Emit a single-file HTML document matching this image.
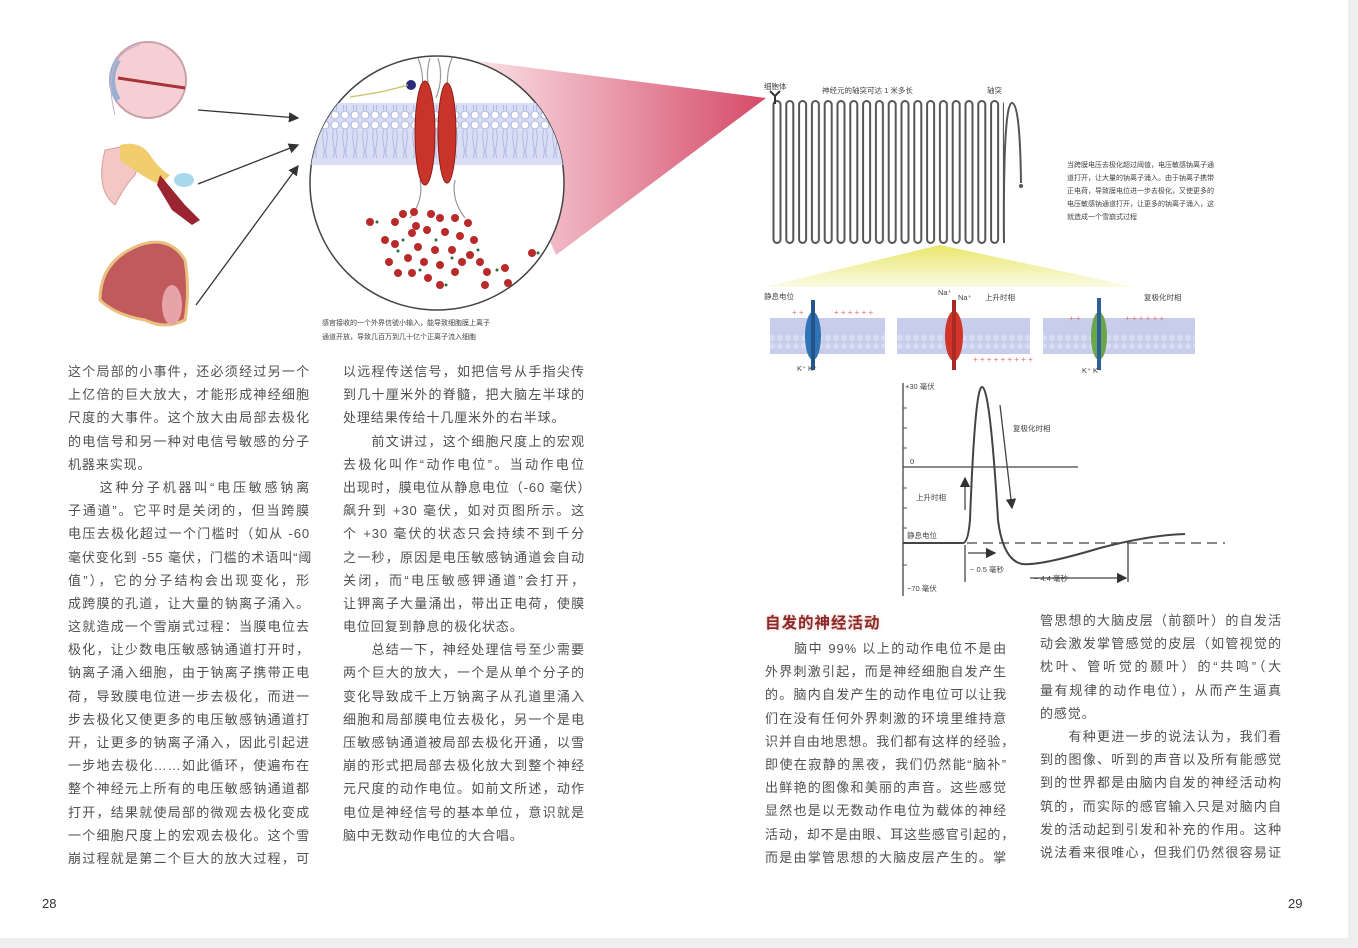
<!DOCTYPE html>
<html><head><meta charset="utf-8">
<style>
html,body{margin:0;padding:0;}
body{width:1358px;height:948px;position:relative;background:#fff;overflow:hidden;font-family:"Liberation Sans","Noto Sans CJK SC",sans-serif;}
.col{position:absolute;color:#505050;font-size:13px;line-height:23.2px;}
.col div{text-align:justify;text-align-last:justify;white-space:nowrap;height:23.2px;letter-spacing:0.9px;}
.col div.e{text-align-last:left;}
.pn{position:absolute;font-size:13px;color:#333;}
h3{position:absolute;margin:0;left:765px;top:611px;font-size:15.5px;color:#8a2a2a;font-weight:bold;letter-spacing:1px;text-shadow:0 0 3px #e8b8b0;}
svg{position:absolute;left:0;top:0;}
</style></head><body>
<svg width="1358" height="948" viewBox="0 0 1358 948">
<defs>
<linearGradient id="pk" x1="0" y1="0" x2="1" y2="0"><stop offset="0" stop-color="#fbe4e8"/><stop offset="1" stop-color="#d54a68"/></linearGradient>
<linearGradient id="yl" x1="0" y1="0" x2="0" y2="1"><stop offset="0" stop-color="#e9e66a"/><stop offset="1" stop-color="#fbfbe6"/></linearGradient>
<pattern id="lip" width="10" height="60" patternUnits="userSpaceOnUse"><rect width="10" height="60" fill="#d9def5"/><circle cx="5" cy="5" r="4" fill="#fff" stroke="#a9b1dc" stroke-width="1"/><circle cx="5" cy="55" r="4" fill="#fff" stroke="#a9b1dc" stroke-width="1"/><path d="M3.5 10 q-1.5 7 0 14 q1.5 7 0 14 M6.5 10 q1.5 7 0 14 q-1.5 7 0 14 M3.5 45 v5 M6.5 45 v5" stroke="#a9b1dc" fill="none" stroke-width="0.8"/></pattern>
<pattern id="coil" x="772" y="0" width="12.8" height="300" patternUnits="userSpaceOnUse"><rect x="1.5" y="101" width="7" height="142" rx="3.5" fill="none" stroke="#555" stroke-width="2"/></pattern>
<pattern id="mem" width="8" height="38" patternUnits="userSpaceOnUse"><rect width="8" height="38" fill="#c7cdea"/><circle cx="4" cy="4" r="3" fill="#d8dcf2"/><circle cx="4" cy="34" r="3" fill="#d8dcf2"/></pattern>
<clipPath id="cc"><circle cx="437" cy="183" r="127"/></clipPath>
<marker id="ar" markerWidth="8" markerHeight="8" refX="7" refY="4" orient="auto"><path d="M0 0 L8 4 L0 8 z" fill="#333"/></marker>
</defs>
<rect x="0" y="938" width="1358" height="10" fill="#eeeeee"/>
<rect x="1348" y="0" width="10" height="948" fill="#eeeeee"/>
<polygon points="470,60 766,98 556,255" fill="url(#pk)"/>
<circle cx="437" cy="183" r="127" fill="#fff" stroke="#444" stroke-width="1.5"/>
<g clip-path="url(#cc)">
<rect x="300" y="103" width="280" height="62" fill="url(#lip)"/>
<path d="M418 58 q8 20 2 40 M430 58 q-6 20 2 40 M438 58 q6 20 -2 40 M452 58 q-8 20 -2 40" stroke="#999" fill="none" stroke-width="1.2"/>
<path d="M420 180 q4 20 -10 38 M455 180 q-4 20 10 38" stroke="#999" fill="none" stroke-width="1.2"/>
<ellipse cx="425" cy="133" rx="10" ry="52" fill="#c9342a" stroke="#8e1e18"/>
<ellipse cx="447" cy="133" rx="9" ry="50" fill="#c9342a" stroke="#8e1e18"/>
<circle cx="411" cy="85" r="5" fill="#2b2a7a"/>
<path d="M350 97 q20 -3 30 -5 t28 -7" stroke="#c8c46a" fill="none" stroke-width="1.3"/>
<g fill="#b92a2a">
<circle cx="370" cy="222" r="4"/><circle cx="385" cy="240" r="4"/><circle cx="395" cy="222" r="4"/><circle cx="403" cy="214" r="4"/><circle cx="414" cy="212" r="4"/><circle cx="431" cy="214" r="4"/><circle cx="440" cy="218" r="4"/><circle cx="455" cy="218" r="4"/><circle cx="468" cy="223" r="4"/><circle cx="412" cy="233" r="4"/><circle cx="427" cy="230" r="4"/><circle cx="445" cy="232" r="4"/><circle cx="460" cy="236" r="4"/><circle cx="474" cy="240" r="4"/><circle cx="395" cy="244" r="4"/><circle cx="418" cy="247" r="4"/><circle cx="435" cy="250" r="4"/><circle cx="452" cy="250" r="4"/><circle cx="470" cy="255" r="4"/><circle cx="389" cy="262" r="4"/><circle cx="408" cy="258" r="4"/><circle cx="424" cy="262" r="4"/><circle cx="440" cy="265" r="4"/><circle cx="462" cy="262" r="4"/><circle cx="480" cy="262" r="4"/><circle cx="398" cy="273" r="4"/><circle cx="412" cy="273" r="4"/><circle cx="428" cy="278" r="4"/><circle cx="455" cy="272" r="4"/><circle cx="487" cy="272" r="4"/><circle cx="505" cy="268" r="4"/><circle cx="532" cy="253" r="4"/><circle cx="440" cy="285" r="4"/><circle cx="485" cy="285" r="4"/><circle cx="508" cy="283" r="4"/><circle cx="416" cy="226" r="4"/>
</g>
<g fill="#2f6a3a"><circle cx="377" cy="222" r="1.5"/><circle cx="403" cy="240" r="1.5"/><circle cx="436" cy="240" r="1.5"/><circle cx="452" cy="258" r="1.5"/><circle cx="478" cy="250" r="1.5"/><circle cx="420" cy="270" r="1.5"/><circle cx="497" cy="270" r="1.5"/><circle cx="446" cy="285" r="1.5"/><circle cx="538" cy="253" r="1.5"/><circle cx="398" cy="251" r="1.5"/></g>
</g>
<circle cx="148" cy="80" r="38" fill="#f5cfd3" stroke="#c9a0a8" stroke-width="2"/>
<path d="M118 60 q-12 20 0 40" stroke="#9ab0d0" stroke-width="6" fill="none"/>
<line x1="118" y1="78" x2="185" y2="88" stroke="#a8323a" stroke-width="3"/>
<path d="M140 45 q-40 10 -25 70" stroke="#c7b0c9" fill="none"/>
<path d="M105 150 q-10 40 10 55 q10 -20 20 -30 q10 -25 -5 -30 z" fill="#f3c7c4" stroke="#d9a0a0"/>
<path d="M120 145 q20 -5 30 10 q10 15 20 20 l-10 10 q-20 -10 -40 -25 z" fill="#f2cd6e"/>
<path d="M160 175 l25 30 l15 15 l-8 5 l-20 -15 l-15 -25 z" fill="#9a2430"/>
<ellipse cx="184" cy="180" rx="10" ry="7" fill="#a8d8ec"/>
<path d="M100 300 q0 -40 40 -55 q30 -10 45 15 q5 30 0 60 q-20 10 -40 0 q-30 -5 -45 -20 z" fill="#c15a5c" stroke="#e8c080" stroke-width="3"/>
<ellipse cx="172" cy="305" rx="10" ry="20" fill="#e7a3a8"/>
<g stroke="#333" stroke-width="1.3" fill="none" marker-end="url(#ar)">
<line x1="198" y1="110" x2="298" y2="118"/><line x1="198" y1="184" x2="298" y2="145"/><line x1="196" y1="305" x2="298" y2="166"/>
</g>
<rect x="772" y="95" width="232" height="152" fill="url(#coil)"/>
<path d="M1004 243 q-1 -140 8 -140 q8 0 9 80" stroke="#555" stroke-width="2" fill="none"/>
<circle cx="1021" cy="186" r="2" fill="#555"/>
<path d="M770 91 l5 5 l5 -5 M775 96 v8" stroke="#333" stroke-width="2" fill="none"/>
<polygon points="940,245 765,287 1135,287" fill="url(#yl)"/>
<rect x="770" y="318" width="115" height="36" fill="url(#mem)"/>
<rect x="897" y="318" width="133" height="36" fill="url(#mem)"/>
<rect x="1043" y="318" width="152" height="36" fill="url(#mem)"/>
<ellipse cx="813" cy="336" rx="8" ry="24" fill="#2f74b5"/><rect x="811" y="300" width="4" height="70" fill="#23558a"/>
<ellipse cx="954" cy="336" rx="9" ry="25" fill="#d1352a"/><rect x="952" y="300" width="4" height="70" fill="#a82a22"/>
<ellipse cx="1099" cy="336" rx="8" ry="24" fill="#6aa64a"/><rect x="1097" y="298" width="4" height="72" fill="#2f5f9a"/>
<g fill="#e07070" font-size="8">
<text x="792" y="315">+ +</text><text x="834" y="315">+ + + + + +</text><text x="973" y="362">+ + + + + + + + +</text><text x="1069" y="321">+ +</text><text x="1125" y="321">+ + + + + +</text>
</g>
<g stroke="#444" stroke-width="1.3" fill="none">
<line x1="903" y1="383" x2="903" y2="596"/>
<line x1="903" y1="467" x2="1078" y2="467"/>
<line x1="903" y1="543" x2="1225" y2="543" stroke-dasharray="10,6"/>
<path d="M903 543 H963 Q968 543 970 520 Q975 387 982 387 Q990 387 998 520 Q1003 560 1022 564 Q1040 566 1100 548 Q1150 535 1185 534" stroke-width="2"/>
<line x1="965" y1="545" x2="965" y2="582"/>
<line x1="1128" y1="543" x2="1128" y2="582"/>
<line x1="965" y1="510" x2="965" y2="478" marker-end="url(#ar)"/>
<line x1="1000" y1="405" x2="1012" y2="508" marker-end="url(#ar)"/>
<line x1="968" y1="553" x2="995" y2="553" marker-end="url(#ar)"/>
<line x1="1030" y1="578" x2="1126" y2="578" marker-end="url(#ar)"/>
</g>
<g stroke="#555" stroke-width="1"><line x1="903" y1="408" x2="907" y2="408"/><line x1="903" y1="428" x2="907" y2="428"/><line x1="903" y1="448" x2="907" y2="448"/><line x1="903" y1="488" x2="907" y2="488"/><line x1="903" y1="508" x2="907" y2="508"/><line x1="903" y1="528" x2="907" y2="528"/><line x1="903" y1="565" x2="907" y2="565"/></g>
<g font-family="Liberation Sans,Noto Sans CJK SC,sans-serif" fill="#444" font-size="7.5">
<text x="905" y="389">+30 毫伏</text><text x="910" y="464">0</text><text x="916" y="500">上升时相</text><text x="907" y="538">静息电位</text><text x="907" y="591">−70 毫伏</text><text x="1013" y="431">复极化时相</text><text x="970" y="572">− 0.5 毫秒</text><text x="1034" y="581">− 4.4 毫秒</text>
<text x="764" y="299">静息电位</text><text x="938" y="295">Na⁺</text><text x="958" y="300">Na⁺</text><text x="985" y="300">上升时相</text><text x="1144" y="300">复极化时相</text>
<text x="797" y="371">K⁺ K⁺</text><text x="1082" y="373">K⁺ K⁺</text>
<text x="764" y="89">细胞体</text><text x="822" y="93">神经元的轴突可达 1 米多长</text><text x="987" y="93">轴突</text>
<text x="1067" y="167" font-size="7">当跨膜电压去极化超过阈值，电压敏感钠离子通</text>
<text x="1067" y="180" font-size="7">道打开，让大量的钠离子涌入。由于钠离子携带</text>
<text x="1067" y="193" font-size="7">正电荷，导致膜电位进一步去极化，又使更多的</text>
<text x="1067" y="206" font-size="7">电压敏感钠通道打开，让更多的钠离子涌入，这</text>
<text x="1067" y="219" font-size="7">就造成一个雪崩式过程</text>
<text x="322" y="325" font-size="7">感官接收的一个外界信號小输入，能导致细胞膜上离子</text>
<text x="322" y="339" font-size="7">通道开放，导致几百万到几十亿个正离子流入细胞</text>
</g>
</svg>

<div class="col" style="left:68px;top:360px;width:242px;">
<div>这个局部的小事件，还必须经过另一个</div>
<div>上亿倍的巨大放大，才能形成神经细胞</div>
<div>尺度的大事件。这个放大由局部去极化</div>
<div>的电信号和另一种对电信号敏感的分子</div>
<div class="e">机器来实现。</div>
<div>　　这种分子机器叫“电压敏感钠离</div>
<div>子通道”。它平时是关闭的，但当跨膜</div>
<div>电压去极化超过一个门槛时（如从 -60</div>
<div>毫伏变化到 -55 毫伏，门槛的术语叫“阈</div>
<div>值”），它的分子结构会出现变化，形</div>
<div>成跨膜的孔道，让大量的钠离子涌入。</div>
<div>这就造成一个雪崩式过程：当膜电位去</div>
<div>极化，让少数电压敏感钠通道打开时，</div>
<div>钠离子涌入细胞，由于钠离子携带正电</div>
<div>荷，导致膜电位进一步去极化，而进一</div>
<div>步去极化又使更多的电压敏感钠通道打</div>
<div>开，让更多的钠离子涌入，因此引起进</div>
<div>一步地去极化……如此循环，使遍布在</div>
<div>整个神经元上所有的电压敏感钠通道都</div>
<div>打开，结果就使局部的微观去极化变成</div>
<div>一个细胞尺度上的宏观去极化。这个雪</div>
<div>崩过程就是第二个巨大的放大过程，可</div>
</div>

<div class="col" style="left:343px;top:360px;width:242px;">
<div>以远程传送信号，如把信号从手指尖传</div>
<div>到几十厘米外的脊髓，把大脑左半球的</div>
<div class="e">处理结果传给十几厘米外的右半球。</div>
<div>　　前文讲过，这个细胞尺度上的宏观</div>
<div>去极化叫作“动作电位”。当动作电位</div>
<div>出现时，膜电位从静息电位（-60 毫伏）</div>
<div>飙升到 +30 毫伏，如对页图所示。这</div>
<div>个 +30 毫伏的状态只会持续不到千分</div>
<div>之一秒，原因是电压敏感钠通道会自动</div>
<div>关闭，而“电压敏感钾通道”会打开，</div>
<div>让钾离子大量涌出，带出正电荷，使膜</div>
<div class="e">电位回复到静息的极化状态。</div>
<div>　　总结一下，神经处理信号至少需要</div>
<div>两个巨大的放大，一个是从单个分子的</div>
<div>变化导致成千上万钠离子从孔道里涌入</div>
<div>细胞和局部膜电位去极化，另一个是电</div>
<div>压敏感钠通道被局部去极化开通，以雪</div>
<div>崩的形式把局部去极化放大到整个神经</div>
<div>元尺度的动作电位。如前文所述，动作</div>
<div>电位是神经信号的基本单位，意识就是</div>
<div class="e">脑中无数动作电位的大合唱。</div>
</div>

<h3>自发的神经活动</h3>
<div class="col" style="left:765px;top:637px;width:242px;">
<div>　　脑中 99% 以上的动作电位不是由</div>
<div>外界刺激引起，而是神经细胞自发产生</div>
<div>的。脑内自发产生的动作电位可以让我</div>
<div>们在没有任何外界刺激的环境里维持意</div>
<div>识并自由地思想。我们都有这样的经验，</div>
<div>即使在寂静的黑夜，我们仍然能“脑补”</div>
<div>出鲜艳的图像和美丽的声音。这些感觉</div>
<div>显然也是以无数动作电位为载体的神经</div>
<div>活动，却不是由眼、耳这些感官引起的，</div>
<div>而是由掌管思想的大脑皮层产生的。掌</div>
</div>

<div class="col" style="left:1040px;top:609px;width:242px;">
<div>管思想的大脑皮层（前额叶）的自发活</div>
<div>动会激发掌管感觉的皮层（如管视觉的</div>
<div>枕叶、管听觉的颞叶）的“共鸣”（大</div>
<div>量有规律的动作电位），从而产生逼真</div>
<div class="e">的感觉。</div>
<div>　　有种更进一步的说法认为，我们看</div>
<div>到的图像、听到的声音以及所有能感觉</div>
<div>到的世界都是由脑内自发的神经活动构</div>
<div>筑的，而实际的感官输入只是对脑内自</div>
<div>发的活动起到引发和补充的作用。这种</div>
<div>说法看来很唯心，但我们仍然很容易证</div>
</div>

<div class="pn" style="left:42px;top:896px;">28</div>
<div class="pn" style="left:1288px;top:896px;">29</div>
</body></html>
